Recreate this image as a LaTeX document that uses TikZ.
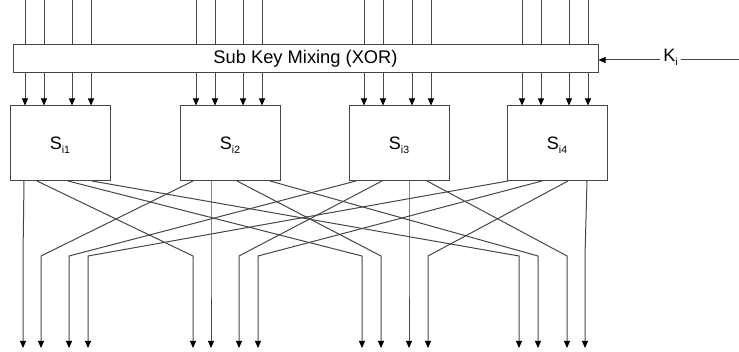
\documentclass[tikz,border=0pt]{standalone}
\usepackage{fontspec}
\setmainfont{Liberation Sans}
\usetikzlibrary{arrows.meta}
\definecolor{ln}{RGB}{70,70,70}
\newcommand\subtxt[1]{\raisebox{-4pt}{\fontsize{10.5}{10.5}\selectfont #1}}
\begin{document}
\begin{tikzpicture}[x=1pt,y=-1pt,
  wire/.style={draw=ln, line width=1pt},
  arr/.style={wire, -{Triangle[length=7pt,width=6pt,color=black]}},
  sbox/.style={draw=ln, line width=1pt, minimum width=100pt, minimum height=75pt,
    inner sep=0pt, text depth=0pt, font=\fontsize{18}{18}\selectfont},
  xorbox/.style={draw=ln, line width=1pt, minimum width=585pt, minimum height=28pt,
    inner sep=0pt, font=\fontsize{18.3}{18.3}\selectfont}
  ]
\useasboundingbox (0,0) rectangle (739,352);
\node[xorbox] (xor) at (305.5,59) {Sub Key Mixing (XOR)};
\node[sbox] (s1) at (60,143.5) {S\subtxt{i1}};
\node[sbox] (s2) at (230,143.5) {S\subtxt{i2}};
\node[sbox] (s3) at (399,143.5) {S\subtxt{i3}};
\node[sbox] (s4) at (557,143.5) {S\subtxt{i4}};
% inputs
\foreach \b/\xs in {1/{25,44,72,91}, 2/{196,215,243,262}, 3/{364,383,412,431}, 4/{522,541,569,588}} {
  \foreach \x [count=\j] in \xs {
    \coordinate (in-\b-\j) at (\x,0);
    \draw[wire] (in-\b-\j) -- (in-\b-\j |- xor.north);
    \draw[arr] (in-\b-\j |- xor.south) -- (in-\b-\j |- s\b.north);
  }
}
% start points on S-box bottoms
\foreach \b/\xs in {1/{24,37,68,92}, 2/{193,211,237,270}, 3/{356,382,409,427}, 4/{508,542,568,587}} {
  \foreach \x [count=\j] in \xs {
    \coordinate (st-\b-\j) at (\x,181);
  }
}
% output positions
\foreach \b/\xs in {1/{23,41,69,88}, 2/{193,211,239,258}, 3/{362,381,409,428}, 4/{519,538,567,585}} {
  \foreach \x [count=\j] in \xs {
    \coordinate (ob-\b-\j) at (\x,256);
    \coordinate (oe-\b-\j) at (\x,348);
  }
}
% permutation: bit j of box i -> position i of box j
\foreach \i in {1,2,3,4} {
  \foreach \j in {1,2,3,4} {
    \draw[arr] (st-\i-\j) -- (ob-\j-\i) -- (oe-\j-\i);
  }
}
% key
\node[anchor=base, inner sep=3pt, font=\fontsize{18}{18}\selectfont] (ki) at (670.5,62) {K\subtxt{i}};
\coordinate (kin) at (739,60);
\draw[wire] (kin) -- (ki.east |- kin);
\draw[arr] (ki.west |- kin) -- (xor.east |- kin);
\end{tikzpicture}
\end{document}
